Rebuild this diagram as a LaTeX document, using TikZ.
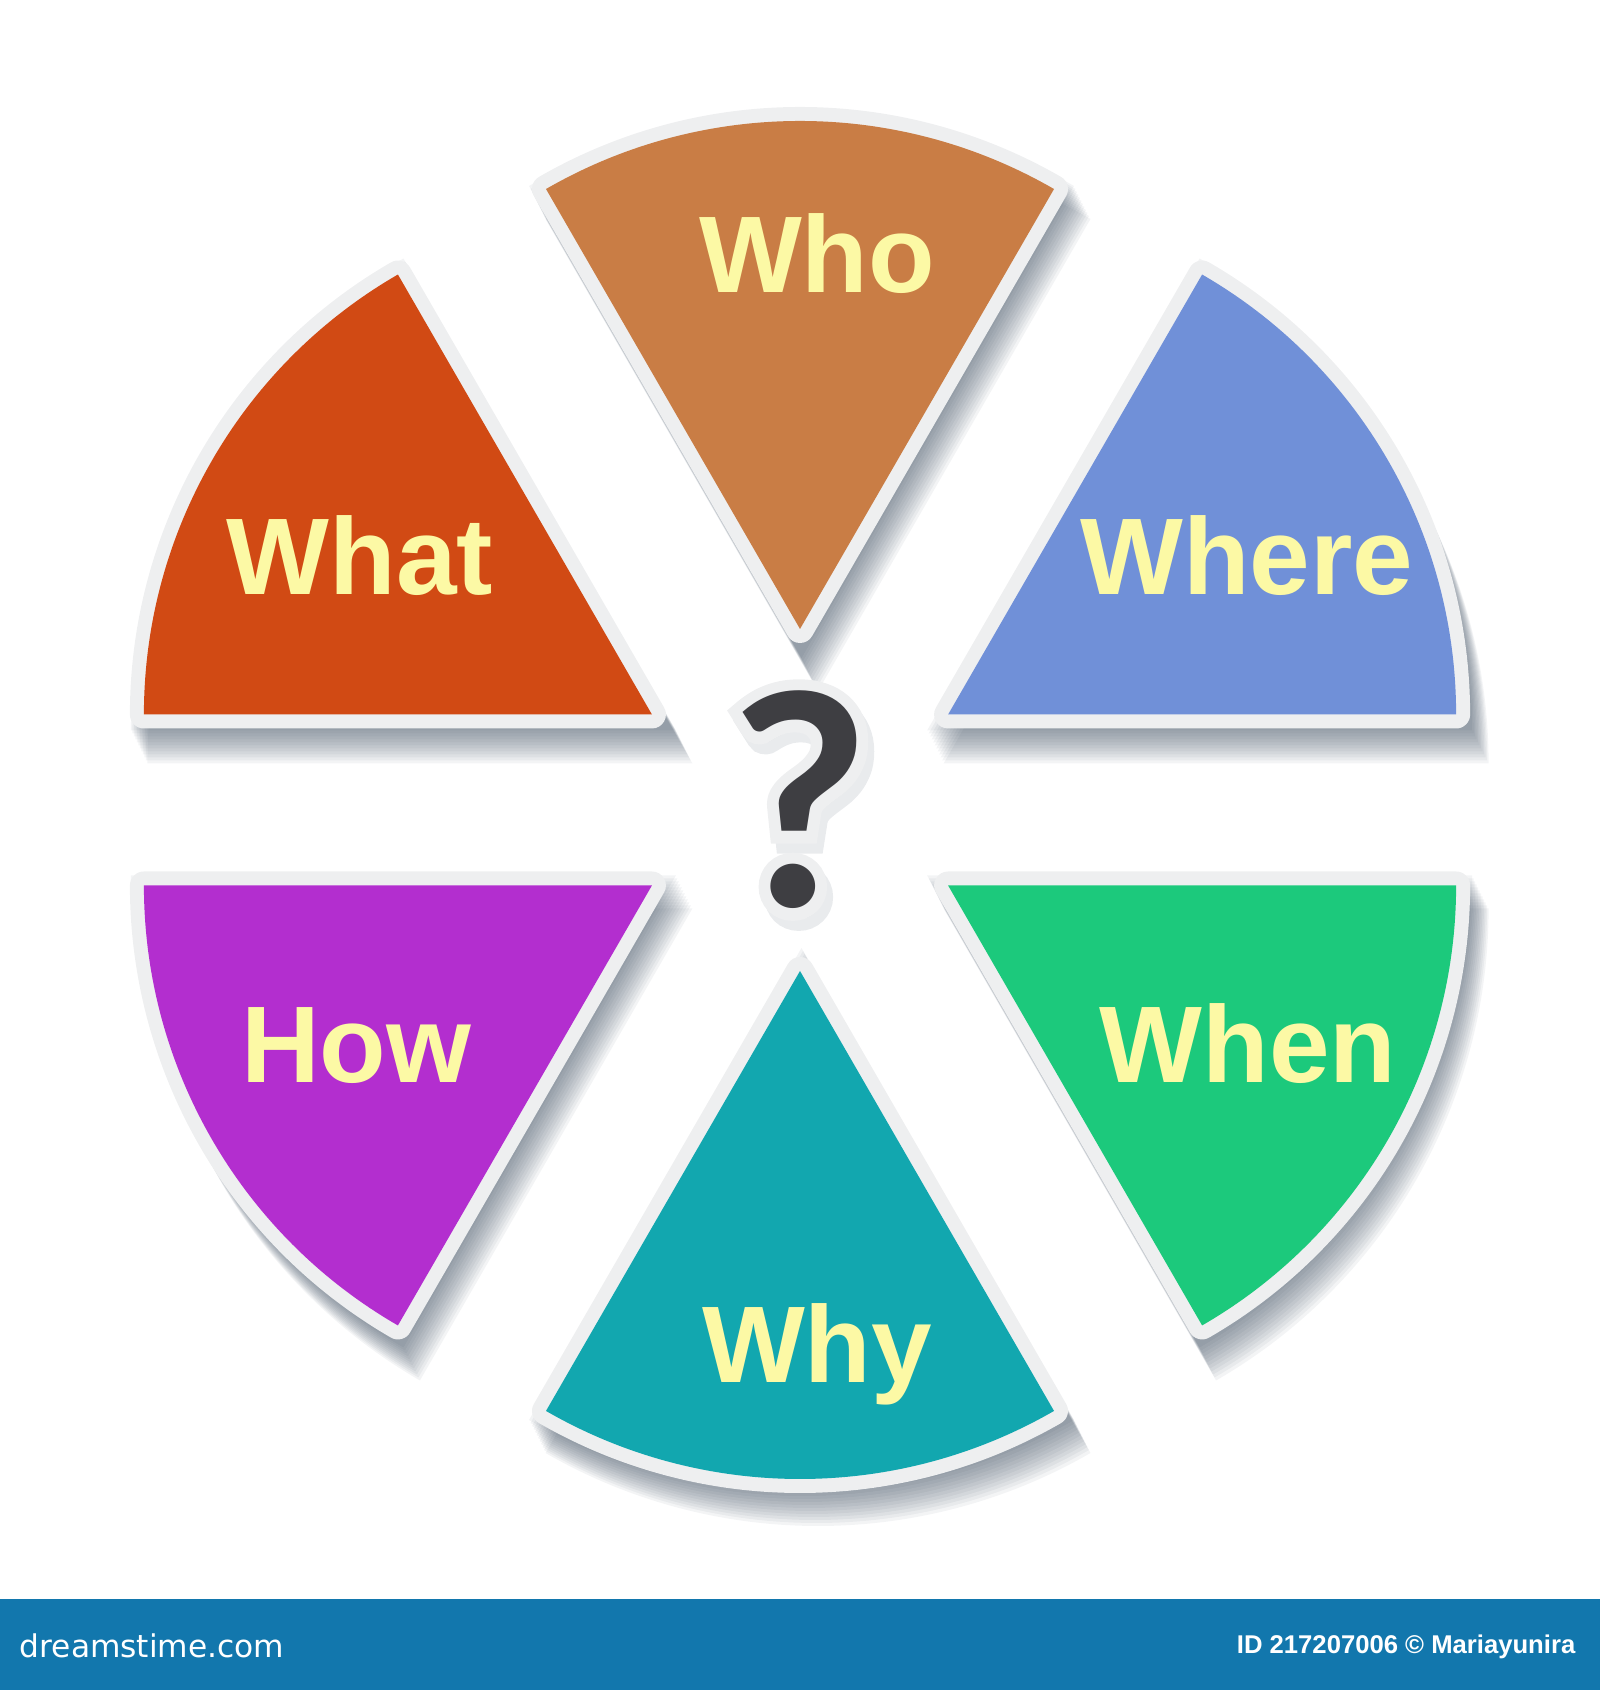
\documentclass[tikz,border=0pt]{standalone}
\usepackage{fontspec}
\setmainfont{Liberation Sans}
\newfontfamily\logofont{DejaVu Sans}
\newfontfamily\markfont{Lato}[UprightFont={* Bold}]
\newfontfamily\ringfont{Lato}[UprightFont={* Bold},FakeBold=8]
\usetikzlibrary{calc}

\definecolor{whocol}{RGB}{201,125,69}
\definecolor{whatcol}{RGB}{209,74,20}
\definecolor{wherecol}{RGB}{112,144,216}
\definecolor{whencol}{RGB}{28,201,124}
\definecolor{whycol}{RGB}{18,167,175}
\definecolor{howcol}{RGB}{179,46,207}
\definecolor{rim}{RGB}{238,239,240}
\definecolor{shade}{RGB}{40,58,78}
\definecolor{wordyellow}{RGB}{252,249,165}
\definecolor{markgray}{RGB}{62,62,66}
\definecolor{barblue}{RGB}{18,119,173}

\begin{document}
\begin{tikzpicture}[
    piece/.style={preaction={draw=rim,line width=2.8mm,line join=round},fill=#1},
    drop/.style={fill=shade,opacity=0.055},
    word/.style={font=\bfseries\fontsize{31}{31}\selectfont,text=wordyellow,inner sep=0pt,anchor=base},
    qmark/.style={font=\markfont\fontsize{84}{84}\selectfont,inner sep=0pt,anchor=base},
    qring/.style={font=\ringfont\fontsize{84}{84}\selectfont,inner sep=0pt,anchor=base},
  ]
    \useasboundingbox (0,0) rectangle (16,16.9);

    \begin{scope}[shift={(8,8.9)}]
	%shadows
	\foreach \ang in {30,90,...,330}
	    \foreach \k in {1,...,12}
		\fill[drop,xshift=\k*0.15mm,yshift=-\k*0.3mm] (\ang:1.45) -- ++({\ang-30}:5.45) arc[start angle={\ang-30},end angle={\ang+30},radius=5.45] -- cycle;

	%pieces
	\foreach \ang/\col in {90/whocol,150/whatcol,210/howcol,270/whycol,330/whencol,30/wherecol}
	    \path[piece=\col] (\ang:1.71) -- ++({\ang-30}:5.08) arc[start angle={\ang-30},end angle={\ang+30},radius=5.08] -- cycle;
    \end{scope}

    \node[word] (who) at (8.17,13.97) {Who};
    \node[word] (what) at (3.60,10.95) {What};
    \node[word] (where) at (12.47,10.95) {Where};
    \node[word] (how) at (3.56,6.07) {How};
    \node[word] (when) at (12.48,6.07) {When};
    \node[word] (why) at (8.17,3.07) {Why};

    %question mark
    \node[qring,text=shade,opacity=0.1] (qshade) at (8.06,7.73) {?};
    \node[qring,text=rim] (qrim) at (8,7.83) {?};
    \node[qmark,text=markgray] (quest) at (8,7.83) {?};

    %bar
    \fill[barblue] (0,0) rectangle (16,0.91);
    \node[anchor=base west,inner sep=0pt,text=white,font=\logofont\fontsize{8.9}{9}\selectfont] (site) at (0.19,0.33) {dreamstime.com};
    \node[anchor=base east,inner sep=0pt,text=white,font=\bfseries\fontsize{7.3}{8}\selectfont] (credit) at (15.76,0.36) {ID 217207006 © Mariayunira};
\end{tikzpicture}
\end{document}
